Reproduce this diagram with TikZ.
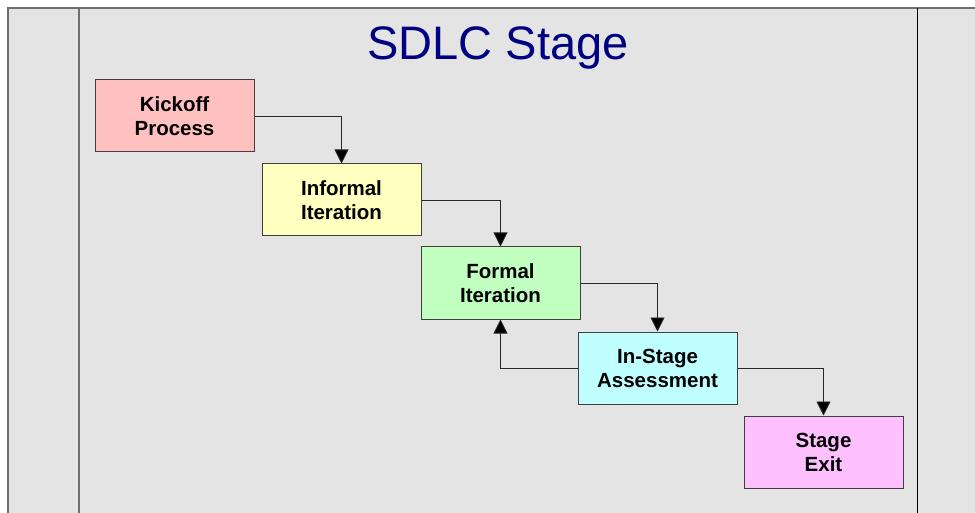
\documentclass[tikz,border=0pt]{standalone}
\usepackage{fontspec}
\setmainfont{Liberation Sans}
\usetikzlibrary{arrows.meta}
\definecolor{panel}{HTML}{E4E4E4}
\definecolor{rule}{HTML}{6E6E6E}
\definecolor{titleblue}{HTML}{000080}
\definecolor{kickfill}{HTML}{FFC0C0}
\definecolor{informfill}{HTML}{FFFFC0}
\definecolor{formfill}{HTML}{C0FFC0}
\definecolor{assessfill}{HTML}{C0FFFF}
\definecolor{exitfill}{HTML}{FFC0FF}
\definecolor{edge}{HTML}{404040}
\tikzset{
  stagebox/.style={draw=edge, line width=1pt, minimum width=159pt, minimum height=72pt,
    inner sep=0pt, align=center, font=\fontsize{20.5}{24}\selectfont\bfseries, text=black},
  flow/.style={draw=black!85, line width=0.9pt, -{Triangle[width=14pt,length=14pt,fill=black]}}
}
\begin{document}
\begin{tikzpicture}[x=1pt, y=-1pt]
  \useasboundingbox (0,0) rectangle (975,513);
  \fill[white] (0,0) rectangle (975,513);
  % swimlane panel
  \fill[panel] (8,8) rectangle (975,513);
  \draw[rule, line width=2pt] (8,513) -- (8,8) -- (975,8);
  \draw[rule, line width=2pt] (79,8) -- (79,513);
  \draw[black, line width=1pt] (917,8) -- (917,513);
  % title
  \node[text=titleblue, font=\fontsize{47}{50}\selectfont, anchor=base, inner sep=0pt]
    (title) at (498,59.5) {SDLC Stage};
  % stages
  \node[stagebox, fill=kickfill]   (kick)   at (174.5,116) {Kickoff\\Process};
  \node[stagebox, fill=informfill] (inform) at (341.5,200) {Informal\\Iteration};
  \node[stagebox, fill=formfill]   (formal) at (500.5,283) {Formal\\Iteration};
  \node[stagebox, fill=assessfill] (assess) at (657.5,368) {In-Stage\\Assessment};
  \node[stagebox, fill=exitfill]   (exit)   at (823.5,452) {Stage\\Exit};
  % connectors
  \draw[flow] (kick.east) -| (inform.north);
  \draw[flow] (inform.east) -| (formal.north);
  \draw[flow] (formal.east) -| (assess.north);
  \draw[flow] (assess.east) -| (exit.north);
  \draw[flow] (assess.west) -| (formal.south);
\end{tikzpicture}
\end{document}
